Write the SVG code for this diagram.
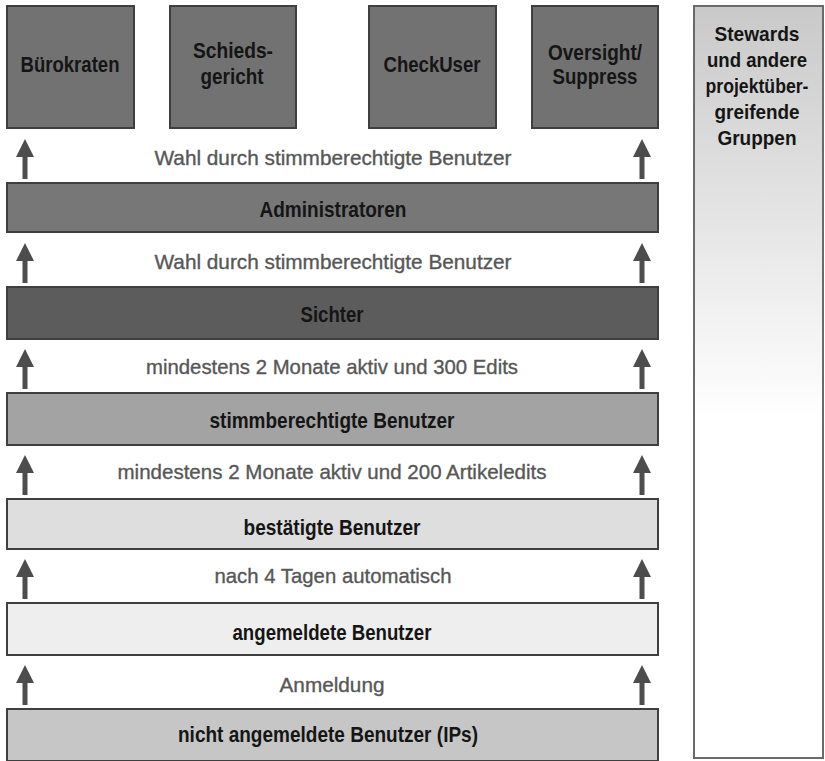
<svg xmlns="http://www.w3.org/2000/svg" width="825" height="761" viewBox="0 0 825 761">
  <style>
    .box { stroke: #3f3f3f; stroke-width: 2; }
    .top { fill: #727272; }
    .t { font-family: "Liberation Sans", Arial, sans-serif; font-weight: bold; font-size: 21.5px; fill: #151515; text-anchor: middle; }
    .side { font-size: 20.5px; }
    .lbl { font-family: "Liberation Sans", Arial, sans-serif; font-size: 21px; fill: #575757; stroke: #575757; stroke-width: 0.35; text-anchor: middle; }
    .arrow { fill: #4d4d4d; }
  </style>
  <defs>
    <linearGradient id="panelFill" x1="0" y1="0" x2="0" y2="1">
      <stop offset="0" stop-color="#c9c9c9"/>
      <stop offset="0.55" stop-color="#ffffff"/>
      <stop offset="1" stop-color="#ffffff"/>
    </linearGradient>
    <!-- upward arrow, tip at origin -->
    <path id="up" d="M0,0 L9,18 L2.5,18 L2.5,40 L-2.5,40 L-2.5,18 L-9,18 Z"/>
  </defs>

  <rect width="825" height="761" fill="#ffffff"/>

  <!-- top row of special groups -->
  <g id="buerokraten">
    <rect class="box top" x="7" y="6" width="127" height="122"/>
    <text class="t" x="70" y="72" textLength="99" lengthAdjust="spacingAndGlyphs">Bürokraten</text>
  </g>
  <g id="schiedsgericht">
    <rect class="box top" x="170" y="6" width="126" height="122"/>
    <text class="t" x="233" y="58" textLength="80" lengthAdjust="spacingAndGlyphs">Schieds-</text>
    <text class="t" x="232" y="84" textLength="63" lengthAdjust="spacingAndGlyphs">gericht</text>
  </g>
  <g id="checkuser">
    <rect class="box top" x="369" y="6" width="127" height="122"/>
    <text class="t" x="432" y="72" textLength="97" lengthAdjust="spacingAndGlyphs">CheckUser</text>
  </g>
  <g id="oversight">
    <rect class="box top" x="532" y="6" width="126" height="122"/>
    <text class="t" x="595" y="60" textLength="94" lengthAdjust="spacingAndGlyphs">Oversight/</text>
    <text class="t" x="595" y="84" textLength="85" lengthAdjust="spacingAndGlyphs">Suppress</text>
  </g>

  <!-- cross-project groups panel -->
  <g id="stewards">
    <rect x="694" y="6" width="129" height="752" fill="url(#panelFill)" stroke="#6a6a6a" stroke-width="2"/>
    <text class="t side" x="757" y="41" textLength="85" lengthAdjust="spacingAndGlyphs">Stewards</text>
    <text class="t side" x="757" y="67" textLength="100" lengthAdjust="spacingAndGlyphs">und andere</text>
    <text class="t side" x="757" y="93" textLength="103" lengthAdjust="spacingAndGlyphs">projektüber-</text>
    <text class="t side" x="757" y="119" textLength="85" lengthAdjust="spacingAndGlyphs">greifende</text>
    <text class="t side" x="757" y="145" textLength="79" lengthAdjust="spacingAndGlyphs">Gruppen</text>
  </g>

  <!-- user level bars -->
  <g id="administratoren">
    <rect class="box" x="7" y="183" width="651" height="49" fill="#777777"/>
    <text class="t" x="333" y="217" textLength="147" lengthAdjust="spacingAndGlyphs">Administratoren</text>
  </g>
  <g id="sichter">
    <rect class="box" x="7" y="287" width="651" height="52" fill="#5c5c5c"/>
    <text class="t" x="332" y="322" textLength="63" lengthAdjust="spacingAndGlyphs">Sichter</text>
  </g>
  <g id="stimmberechtigte">
    <rect class="box" x="7" y="393" width="651" height="52" fill="#a3a3a3"/>
    <text class="t" x="332" y="428" textLength="245" lengthAdjust="spacingAndGlyphs">stimmberechtigte Benutzer</text>
  </g>
  <g id="bestaetigte">
    <rect class="box" x="7" y="499" width="651" height="50" fill="#dedede" stroke="#4a4a4a"/>
    <text class="t" x="332" y="535" textLength="177" lengthAdjust="spacingAndGlyphs">bestätigte Benutzer</text>
  </g>
  <g id="angemeldete">
    <rect class="box" x="7" y="603" width="651" height="52" fill="#eeeeee" stroke="#5a5a5a"/>
    <text class="t" x="332" y="640" textLength="199" lengthAdjust="spacingAndGlyphs">angemeldete Benutzer</text>
  </g>
  <g id="nicht-angemeldete">
    <rect class="box" x="7" y="709" width="651" height="52" fill="#c6c6c6" stroke="#4a4a4a"/>
    <text class="t" x="328" y="742" textLength="300" lengthAdjust="spacingAndGlyphs">nicht angemeldete Benutzer (IPs)</text>
  </g>

  <!-- promotion arrows with their conditions -->
  <g id="connectors">
    <g class="arrow">
      <use href="#up" x="25" y="139"/>
      <use href="#up" x="642" y="139"/>
      <use href="#up" x="25" y="243"/>
      <use href="#up" x="642" y="243"/>
      <use href="#up" x="25" y="349"/>
      <use href="#up" x="642" y="349"/>
      <use href="#up" x="25" y="455"/>
      <use href="#up" x="642" y="455"/>
      <use href="#up" x="25" y="559"/>
      <use href="#up" x="642" y="559"/>
      <use href="#up" x="25" y="665"/>
      <use href="#up" x="642" y="665"/>
    </g>
    <text class="lbl" x="333" y="165" textLength="357" lengthAdjust="spacingAndGlyphs">Wahl durch stimmberechtigte Benutzer</text>
    <text class="lbl" x="333" y="269" textLength="357" lengthAdjust="spacingAndGlyphs">Wahl durch stimmberechtigte Benutzer</text>
    <text class="lbl" x="332" y="374" textLength="372" lengthAdjust="spacingAndGlyphs">mindestens 2 Monate aktiv und 300 Edits</text>
    <text class="lbl" x="332" y="479" textLength="429" lengthAdjust="spacingAndGlyphs">mindestens 2 Monate aktiv und 200 Artikeledits</text>
    <text class="lbl" x="333" y="583" textLength="237" lengthAdjust="spacingAndGlyphs">nach 4 Tagen automatisch</text>
    <text class="lbl" x="332" y="692" textLength="105" lengthAdjust="spacingAndGlyphs">Anmeldung</text>
  </g>
</svg>
